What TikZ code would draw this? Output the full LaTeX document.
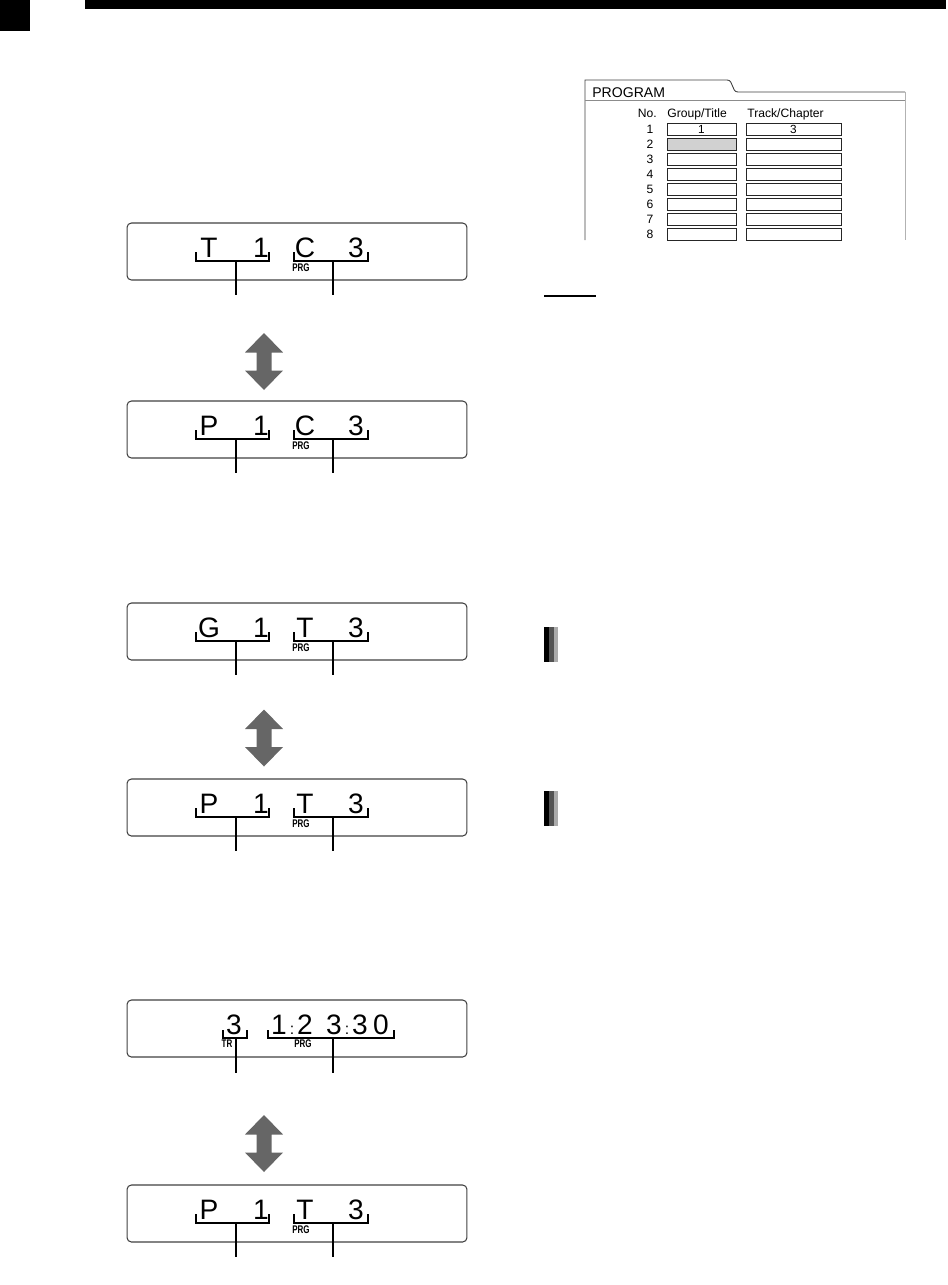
\documentclass[tikz,border=0pt]{standalone}
\usepackage{fontspec}
\setmainfont{Liberation Sans}
\newfontfamily\prgfont[FakeStretch=0.72]{Liberation Sans}
\begin{document}
\begin{tikzpicture}[x=0.02cm, y=-0.02cm,
    lcd/.style={draw=black!75, line width=0.6pt, rounded corners=2.5pt, minimum width=6.8cm, minimum height=1.14cm, inner sep=0pt},
    cifra/.style={font=\fontsize{16}{16}\selectfont, inner sep=0pt, anchor=base},
    etichetta/.style={font=\prgfont\bfseries\fontsize{6.3}{6.3}\selectfont, inner sep=0pt},
    graffa/.style={line width=0.7pt},
    freccia/.style={fill=black!60},
    casella/.style={draw=black!85, line width=0.5pt, minimum width=1.38cm, minimum height=0.24cm, inner sep=0pt, font=\fontsize{6.7}{6.7}\selectfont},
    tabtesto/.style={font=\fontsize{6.9}{6.9}\selectfont, inner sep=0pt}]
    % Margini della pagina
    \useasboundingbox (0,0) rectangle (947,1285);

    % Intestazione: quadratino nero e barra
    \fill (0,0) rectangle (30,31);
    \fill (85,0) rectangle (946,9);

    % Display con due campi (lettera + numero, lettera + numero)
    \foreach \ty/\a/\b/\n in {223/T/C/uno, 401/P/C/due, 603/G/T/tre, 779/P/T/quattro, 1185/P/T/sei} {
        \node[lcd] (\n) at (297,\ty+28.5) {};
        \node[cifra] (\n-a) at (209,\ty+34) {\a};
        \node[cifra] (\n-x) at (261,\ty+34) {1};
        \node[cifra] (\n-b) at (305,\ty+34) {\b};
        \node[cifra] (\n-y) at (356,\ty+34) {3};
        \node[etichetta] (\n-prg) at (301,\ty+45) {PRG};
        % parentesi sotto i campi
        \draw[graffa] (196,\ty+29) -- (196,\ty+38) -- (269,\ty+38) -- (269,\ty+29);
        \draw[graffa] (294,\ty+29) -- (294,\ty+38) -- (368,\ty+38) -- (368,\ty+29);
        \coordinate (\n-p1) at (236,\ty+38);
        \coordinate (\n-p2) at (333,\ty+38);
        \coordinate (\n-e1) at (236,\ty+72);
        \coordinate (\n-e2) at (333,\ty+72);
        \draw[graffa] (\n-p1) -- (\n-e1);
        \draw[graffa] (\n-p2) -- (\n-e2);
    }

    % Display con traccia e tempo
    \node[lcd] (cinque) at (297,1028.5) {};
    \node[cifra] (cinque-tr) at (234,1034) {3};
    \node[cifra] (cinque-h) at (279,1034) {1};
    \node[cifra, font=\fontsize{9}{9}\selectfont] (cinque-c1) at (292,1034) {:};
    \node[cifra] (cinque-m1) at (305,1034) {2};
    \node[cifra] (cinque-m2) at (334,1034) {3};
    \node[cifra, font=\fontsize{9}{9}\selectfont] (cinque-c2) at (347,1034) {:};
    \node[cifra] (cinque-s1) at (360,1034) {3};
    \node[cifra] (cinque-s2) at (381,1034) {0};
    \node[etichetta] (cinque-trl) at (227,1044) {TR};
    \node[etichetta] (cinque-prg) at (303,1044) {PRG};
    \draw[graffa] (223,1030) -- (223,1038) -- (247,1038) -- (247,1030);
    \draw[graffa] (268,1030) -- (268,1038) -- (394,1038) -- (394,1030);
    \coordinate (cinque-p1) at (236,1038);
    \coordinate (cinque-p2) at (333,1038);
    \coordinate (cinque-e1) at (236,1073);
    \coordinate (cinque-e2) at (333,1073);
    \draw[graffa] (cinque-p1) -- (cinque-e1);
    \draw[graffa] (cinque-p2) -- (cinque-e2);

    % Frecce doppie grigie tra i display
    \foreach \cy in {361.5, 738, 1143.5} {
        \fill[freccia] (264,\cy-28.5) -- (283,\cy-9) -- (271.5,\cy-9) -- (271.5,\cy+9) -- (283,\cy+9)
            -- (264,\cy+28.5) -- (245,\cy+9) -- (256.5,\cy+9) -- (256.5,\cy-9) -- (245,\cy-9) -- cycle;
    }

    % Schermata PROGRAM
    \draw[black!75, line width=0.5pt] (585,240) -- (585,80) -- (727,80)
        .. controls (734,80) and (731,92) .. (738,92) -- (905,92);
    \draw[black!30, line width=0.5pt] (905,92) -- (905,240);
    \draw[black!45, line width=0.5pt] (585,100) -- (905,100);
    \node[anchor=base west, inner sep=0pt, font=\fontsize{8}{8}\selectfont] (titolo) at (592,97) {PROGRAM};
    \node[tabtesto, anchor=base east] (hno) at (657,117) {No.};
    \node[tabtesto, anchor=base west] (hgt) at (667,117) {Group/Title};
    \node[tabtesto, anchor=base west] (htc) at (747,117) {Track/Chapter};
    \foreach \i in {1,...,8} {
        \node[tabtesto] (n\i) at (650,129+15*\i-15) {\i};
        \node[casella] (g\i) at (701.5,129+15*\i-15) {};
        \node[casella, minimum width=1.9cm] (t\i) at (793.5,129+15*\i-15) {};
    }
    \node[casella] at (g1) {1};
    \node[casella, minimum width=1.9cm] at (t1) {3};
    \node[casella, fill=black!18] at (g2) {};

    % Sottolineatura e barre grigie a destra
    \draw[line width=1.5pt] (544,296) -- (596,296);
    \foreach \by in {627, 791} {
        \fill[black] (544,\by) rectangle (549,\by+35);
        \fill[black!67] (549,\by) rectangle (554,\by+35);
        \fill[black!33] (554,\by) rectangle (558,\by+35);
    }
\end{tikzpicture}
\end{document}
